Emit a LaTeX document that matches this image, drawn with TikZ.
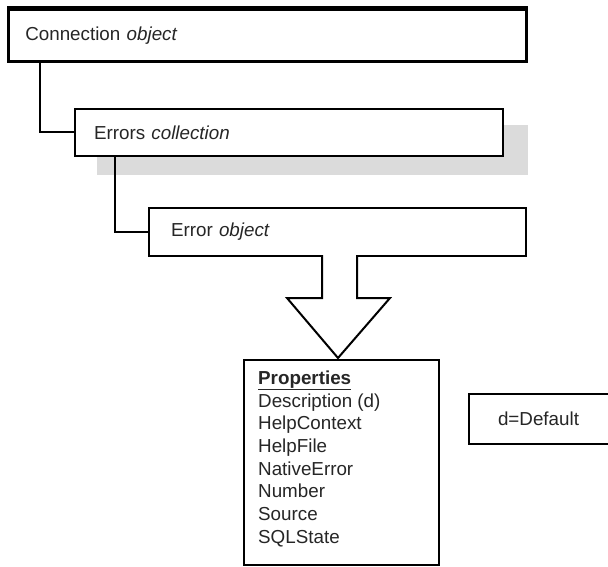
\documentclass[tikz,border=0pt]{standalone}
\usepackage{fontspec}
\setmainfont{Liberation Sans}
\begin{document}
\begin{tikzpicture}[x=1pt,y=-1pt,
  every node/.style={font=\fontsize{18.8}{22.7}\selectfont, text=black!85},
  objbox/.style={draw, line width=2pt, fill=white, rectangle, anchor=north west, align=left, inner ysep=0pt},
  link/.style={draw, line width=2pt},
  shade/.style={fill=black!14, draw=none}]
\useasboundingbox (0,0) rectangle (608,567);
% shadow behind errors collection
\fill[shade] (97,125) rectangle (528,175);
% boxes
\node[objbox, line width=2.6pt, inner xsep=17pt, text width=484pt, minimum height=52pt] (conn) at (7,8) {Connection \textit{object}};
\draw[line width=4pt] (conn.north west) -- (conn.north east);
\node[objbox, inner xsep=19pt, text width=390pt, minimum height=47pt] (errs) at (74,108) {Errors \textit{collection}};
\node[objbox, inner xsep=22pt, text width=333pt, minimum height=48pt] (err) at (148,207) {Error \textit{object}};
\node[objbox, inner sep=0pt, minimum width=195pt, minimum height=205pt] (props) at (243,359) {};
\node[anchor=north west, inner sep=0pt, align=left] (plist) at ([shift={(15,11.5)}]props.north west)
  {\underline{\textbf{Properties}}\\Description (d)\\HelpContext\\HelpFile\\NativeError\\Number\\Source\\SQLState};
\node[objbox, inner xsep=29pt, text width=86pt, minimum height=50pt] (dflt) at (468,393) {d=Default};
% connectors
\draw[link] ([xshift=33pt]conn.south west) |- (errs.west);
\draw[link] ([xshift=41pt]errs.south west) |- (err.west);
% block arrow
\draw[line width=2pt, fill=white, line join=miter]
  (322,255) -- (322,298) -- (287,298) -- (338,358) -- (390,298) -- (357,298) -- (357,255);
\end{tikzpicture}
\end{document}
